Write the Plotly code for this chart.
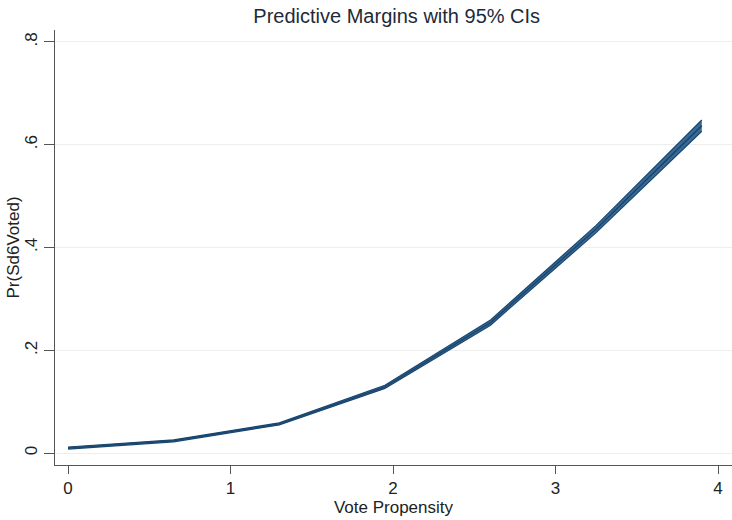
import plotly.graph_objects as go

vote_propensity = [0, 0.65, 1.3, 1.95, 2.6, 3.25, 3.9]
margin = [0.010, 0.024, 0.057, 0.129, 0.254, 0.436, 0.637]
ci_lower = [0.008, 0.022, 0.055, 0.126, 0.249, 0.429, 0.626]
ci_upper = [0.012, 0.026, 0.059, 0.132, 0.259, 0.443, 0.648]

x_ticks = [0, 1, 2, 3, 4]
y_ticks = [0, 0.2, 0.4, 0.6, 0.8]
y_tick_labels = ["0", ".2", ".4", ".6", ".8"]

font_family = "Liberation Sans, Arial, sans-serif"

fig = go.Figure()
fig.add_trace(go.Scatter(x=vote_propensity, y=ci_upper, mode="lines",
                         line=dict(color="#1a476f", width=1.2), showlegend=False,
                         hoverinfo="skip"))
fig.add_trace(go.Scatter(x=vote_propensity, y=ci_lower, mode="lines",
                         line=dict(color="#1a476f", width=1.2), fill="tonexty",
                         fillcolor="#3a6a96", showlegend=False, hoverinfo="skip"))
fig.add_trace(go.Scatter(x=vote_propensity, y=margin, mode="lines",
                         line=dict(color="#1a476f", width=1.5), showlegend=False,
                         hoverinfo="skip"))

fig.update_layout(
    width=732, height=520,
    paper_bgcolor="white", plot_bgcolor="white",
    margin=dict(l=55, r=0, t=30, b=55, autoexpand=False),
    title=dict(text="Predictive Margins with 95% CIs", xref="container", x=0.542,
               xanchor="center", yref="container", y=1 - 16 / 520, yanchor="middle",
               font=dict(family=font_family, size=20, color="#1e2a3a")),
    font=dict(family=font_family, color="#222222"),
    annotations=[dict(text="Pr(Sd6Voted)", xref="paper", yref="paper",
                      x=-42 / 677, y=0.5, xanchor="center", yanchor="middle",
                      textangle=-90, showarrow=False,
                      font=dict(family=font_family, size=17, color="#222222"))],
)
fig.update_xaxes(range=[-0.08, 4.086], tickvals=x_ticks, ticks="outside", ticklen=8,
                 tickcolor="#555555", showline=True, linecolor="#555555", linewidth=1,
                 showgrid=False, zeroline=False, tickfont=dict(size=17),
                 automargin=False,
                 title=dict(text="Vote Propensity", font=dict(size=17), standoff=2))
fig.update_yaxes(range=[-0.023, 0.823], tickvals=y_ticks, ticktext=y_tick_labels,
                 tickangle=-90, ticks="outside", ticklen=10, tickcolor="#555555",
                 showline=True, linecolor="#555555", linewidth=1,
                 showgrid=True, gridcolor="#eeeeee", gridwidth=1, zeroline=False,
                 tickfont=dict(size=17), automargin=False)

fig.write_html("out.html", config={"displayModeBar": False},
               post_script="document.body.style.margin='0';document.body.style.overflow='hidden';")
